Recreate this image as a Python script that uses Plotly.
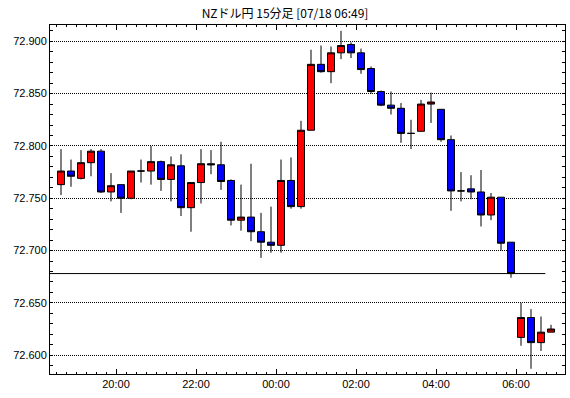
import plotly.graph_objects as go
import pandas as pd

# ---- data (15-minute candles, NZD/JPY) ----
first_period = "2024-07-17 18:30"
opens = [72.763, 72.776, 72.769, 72.784, 72.795, 72.756, 72.763, 72.750, 72.776, 72.776,
         72.785, 72.768, 72.781, 72.741, 72.765, 72.783, 72.782, 72.767, 72.729, 72.732,
         72.718, 72.708, 72.705, 72.767, 72.742, 72.815, 72.878, 72.871, 72.889, 72.897,
         72.889, 72.874, 72.852, 72.839, 72.836, 72.812, 72.814, 72.840, 72.835, 72.806,
         72.757, 72.759, 72.756, 72.734, 72.751, 72.708, 72.617, 72.636, 72.612, 72.622]
highs = [72.797, 72.787, 72.796, 72.797, 72.797, 72.774, 72.763, 72.776, 72.787, 72.800,
         72.786, 72.790, 72.792, 72.765, 72.797, 72.796, 72.804, 72.768, 72.763, 72.783,
         72.736, 72.742, 72.787, 72.789, 72.824, 72.892, 72.896, 72.895, 72.910, 72.899,
         72.893, 72.876, 72.853, 72.852, 72.841, 72.825, 72.844, 72.851, 72.835, 72.810,
         72.775, 72.772, 72.777, 72.755, 72.751, 72.708, 72.650, 72.644, 72.637, 72.629]
lows = [72.753, 72.761, 72.768, 72.771, 72.755, 72.747, 72.736, 72.749, 72.765, 72.763,
        72.757, 72.747, 72.733, 72.718, 72.745, 72.773, 72.758, 72.724, 72.719, 72.709,
        72.693, 72.698, 72.698, 72.740, 72.740, 72.815, 72.870, 72.860, 72.883, 72.884,
        72.869, 72.850, 72.838, 72.830, 72.803, 72.797, 72.814, 72.822, 72.804, 72.738,
        72.747, 72.749, 72.723, 72.729, 72.700, 72.674, 72.609, 72.587, 72.604, 72.622]
closes = [72.776, 72.771, 72.784, 72.795, 72.756, 72.762, 72.750, 72.776, 72.776, 72.785,
          72.768, 72.782, 72.741, 72.765, 72.783, 72.782, 72.766, 72.729, 72.732, 72.718,
          72.708, 72.705, 72.767, 72.742, 72.815, 72.878, 72.871, 72.889, 72.896, 72.889,
          72.873, 72.852, 72.839, 72.836, 72.812, 72.812, 72.840, 72.842, 72.806, 72.757,
          72.757, 72.756, 72.734, 72.751, 72.707, 72.678, 72.636, 72.612, 72.622, 72.625]

ref_level = 72.678              # horizontal reference line
ref_line_end = "2024-07-18 06:44"
x_range = ["2024-07-17 18:21", "2024-07-18 07:13:30"]
y_range = [72.582, 72.9156]
title_text = "NZドル円 15分足 [07/18 06:49]"

# candle centred in the middle of its 15-minute period
times = pd.date_range(first_period, periods=len(opens), freq="15min") + pd.Timedelta(minutes=7.5)

fig = go.Figure()
fig.add_trace(go.Candlestick(
    x=times, open=opens, high=highs, low=lows, close=closes,
    increasing=dict(fillcolor="#ff0000", line=dict(color="black", width=1)),
    decreasing=dict(fillcolor="#0000ff", line=dict(color="black", width=1)),
    whiskerwidth=0, showlegend=False, hoverinfo="skip",
))

fig.add_shape(type="line", xref="x", yref="y",
              x0=x_range[0], x1=ref_line_end, y0=ref_level, y1=ref_level,
              line=dict(color="black", width=1))

tick_font = dict(family="Liberation Sans, Arial, sans-serif", size=11, color="black")

fig.update_layout(
    width=570, height=398, autosize=False,
    margin=dict(l=50, r=5, t=25, b=24),
    paper_bgcolor="white", plot_bgcolor="white",
    boxgap=0.3, boxgroupgap=0,
    title=dict(text=title_text, x=0.5, xanchor="center", y=1 - 14 / 398, yanchor="middle",
               yref="container",
               font=dict(family="Noto Sans CJK JP, sans-serif", size=12, color="black")),
    xaxis=dict(
        type="date", range=x_range, rangeslider=dict(visible=False),
        tick0="2024-07-17 00:00", dtick=2 * 3600 * 1000, tickformat="%H:%M",
        ticks="inside", ticklen=5, tickcolor="black", tickwidth=1,
        showline=True, linecolor="black", linewidth=1, mirror="allticks",
        showgrid=False, zeroline=False, tickfont=tick_font,
        minor=dict(dtick=15 * 60 * 1000, ticks="inside", ticklen=2, tickcolor="black", showgrid=False),
    ),
    yaxis=dict(
        range=y_range, tick0=72.6, dtick=0.05, tickformat=".3f",
        ticks="inside", ticklen=3, tickcolor="black", tickwidth=1,
        showline=True, linecolor="black", linewidth=1, mirror="allticks",
        showgrid=True, gridcolor="black", gridwidth=1, griddash="1px,1px",
        zeroline=False, tickfont=tick_font,
        minor=dict(dtick=0.01, ticks="inside", ticklen=3, tickcolor="black", showgrid=False),
    ),
)

fig.write_html("out.html")
